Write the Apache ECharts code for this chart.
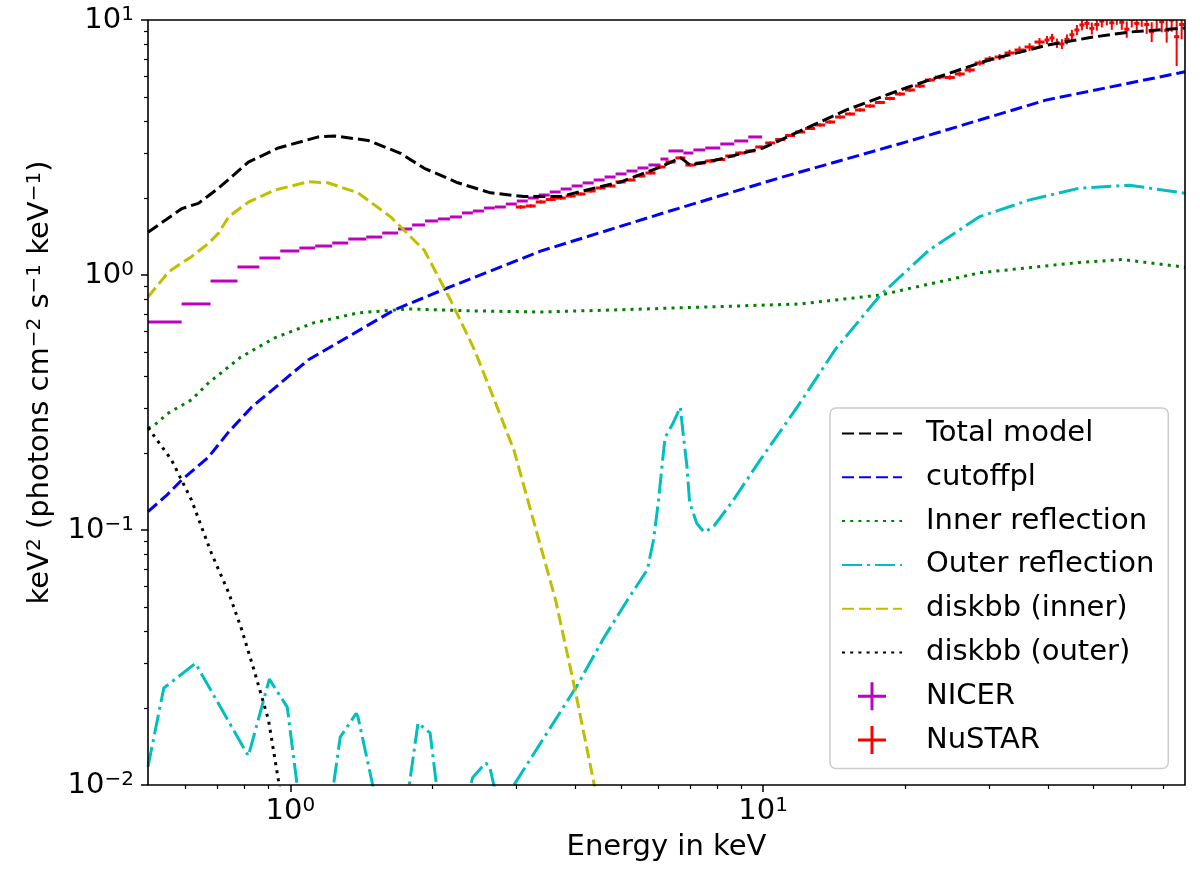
<!DOCTYPE html>
<html>
<head>
<meta charset="utf-8">
<script src="https://cdn.jsdelivr.net/npm/echarts@6/dist/echarts.min.js"></script>
<style>
html,body{margin:0;padding:0;background:#fff;}
#chart{width:1200px;height:875px;}
</style>
</head>
<body>
<div id="chart"></div>
<script>
// ---------------- data ----------------
const totalE = [0.5,0.589,0.639,0.705,0.815,0.943,1.146,1.24,1.46,1.71,1.92,2.26,2.65,3.12,3.73,4.0,5.0,6.0,6.4,6.7,7.0,8.0,10,15,20,30,40,50,60,78];
const totalV = [1.47,1.82,1.91,2.19,2.77,3.15,3.48,3.51,3.37,3.0,2.62,2.30,2.10,2.03,2.03,2.10,2.32,2.63,2.78,2.88,2.70,2.83,3.15,4.44,5.41,6.97,7.98,8.58,8.98,9.3];

const cutoffE = [0.5,0.548,0.589,0.671,0.740,0.828,1.09,1.66,2.15,3.38,6.27,10.8,20.7,39.6,75.8,78];
const cutoffV = [0.118,0.137,0.157,0.193,0.242,0.303,0.464,0.73,0.89,1.24,1.77,2.40,3.38,4.85,6.2,6.27];

const innerE = [0.5,0.516,0.553,0.618,0.671,0.785,0.925,1.12,1.39,1.77,2.45,3.38,4.92,11.97,17.7,28.7,46.6,57.6,75.8,78];
const innerV = [0.25,0.258,0.288,0.324,0.377,0.476,0.566,0.649,0.71,0.736,0.723,0.716,0.73,0.77,0.835,1.02,1.12,1.15,1.08,1.07];

const outerE = [0.5,0.54,0.63,0.815,0.903,0.985,1.035,1.12,1.232,1.275,1.378,1.39,1.497,1.64,1.782,1.862,1.975,2.04,2.2,2.40,2.43,2.59,2.64,2.70,2.8,2.95,4.05,4.6,5.16,5.69,5.86,6.0,6.12,6.2,6.45,6.68,6.77,6.9,6.99,7.24,7.5,7.85,8.65,9.85,11.8,14.2,17.7,22.4,28.6,36.6,46.6,59.4,75.8,78];
const outerV = [0.0118,0.024,0.030,0.013,0.026,0.0202,0.0098,0.004,0.0098,0.0154,0.0191,0.0185,0.0098,0.004,0.0098,0.0175,0.016,0.0098,0.004,0.0098,0.0107,0.0122,0.0118,0.0098,0.006,0.0098,0.0247,0.0377,0.053,0.070,0.091,0.128,0.183,0.230,0.263,0.303,0.24,0.177,0.128,0.106,0.098,0.103,0.131,0.188,0.303,0.51,0.835,1.25,1.69,1.97,2.19,2.25,2.11,2.09];

const diskInE = [0.5,0.553,0.618,0.671,0.705,0.740,0.815,0.925,1.09,1.20,1.39,1.63,1.92,2.18,2.45,2.70,2.97,3.64,3.99,4.38,4.6];
const diskInV = [0.82,1.03,1.18,1.33,1.46,1.69,1.93,2.15,2.32,2.30,2.10,1.69,1.25,0.80,0.51,0.324,0.206,0.053,0.0242,0.0103,0.006];

const diskOutE = [0.5,0.561,0.618,0.681,0.740,0.788,0.839,0.899,0.943,1.0];
const diskOutV = [0.252,0.188,0.131,0.081,0.057,0.041,0.028,0.018,0.0105,0.0058];

const nicerEdges = [0.5,0.589,0.678,0.773,0.860,0.952,1.045,1.129,1.226,1.326,1.447,1.564,1.690,1.809,1.927,2.052,2.176,2.306,2.433,2.567,2.706,2.856,3.012,3.178,3.352,3.536,3.730,3.935,4.151,4.379,4.619,4.873,5.140,5.423,5.720,6.064,6.304,6.781,7.118,7.543,8.114,8.687,9.297,9.95];
const nicerVals = [0.654,0.770,0.947,1.075,1.166,1.242,1.276,1.299,1.335,1.384,1.409,1.461,1.515,1.571,1.629,1.659,1.689,1.751,1.782,1.831,1.848,1.898,1.950,2.004,2.059,2.116,2.174,2.234,2.296,2.358,2.423,2.490,2.557,2.628,2.700,2.850,3.065,3.009,3.093,3.148,3.264,3.354,3.478];

const nustarEdges = [2.998,3.146,3.303,3.468,3.641,3.823,4.013,4.212,4.422,4.642,4.873,5.116,5.370,5.637,5.918,6.213,6.522,6.846,7.187,7.545,7.920,8.314,8.728,9.163,9.619,10.10,10.60,11.13,11.68,12.26,12.87,13.52,14.19,14.89,15.64,16.42,17.23,18.09,18.99,19.94,20.93,21.97,23.07,24.21,25.42,26.68,28.01,29.40,30.87,32.40,34.01,35.71,37.48,39.35,
  40.32,41.31,42.32,43.36,44.43,45.52,46.64,47.79,48.96,50.16,51.40,52.66,53.95,55.28,56.64,58.03,59.46,60.92,62.42,63.95,65.52,67.14,68.79,70.48,72.21,73.99,75.81,77.67];
const nustarVals = [1.848,1.865,1.934,1.978,2.004,2.041,2.078,2.135,2.194,2.234,2.316,2.358,2.445,2.512,2.652,2.774,2.877,2.700,2.749,2.800,2.838,2.929,3.009,3.064,3.177,3.294,3.400,3.525,3.638,3.755,3.875,3.981,4.165,4.280,4.438,4.600,4.749,4.923,5.126,5.315,5.510,5.817,5.977,5.95,6.141,6.366,6.782,7.032,7.160,7.424,7.628,7.836,8.197,
  8.35,8.50,8.11,8.05,8.40,8.75,9.14,9.56,9.70,9.27,9.60,9.90,10.10,9.75,10.20,9.80,9.20,10.05,9.70,10.15,9.60,9.00,10.10,9.85,9.10,10.00,8.60,9.60];
const nustarErr = [0.03,0.03,0.03,0.03,0.03,0.03,0.03,0.03,0.03,0.03,0.03,0.03,0.03,0.03,0.03,0.03,0.03,
  0.04,0.04,0.04,0.04,0.04,0.04,0.04,0.04,0.04,0.04,0.04,0.04,
  0.05,0.06,0.06,0.06,0.06,0.07,0.07,0.07,0.08,0.08,0.09,
  0.10,0.10,0.12,0.12,0.14,0.15,0.16,0.18,
  0.20,0.22,0.25,0.28,0.30,
  0.30,0.32,0.34,0.36,0.38,0.40,0.42,0.45,0.48,0.50,0.52,0.55,0.58,0.60,0.62,0.65,0.68,0.70,0.72,0.75,0.78,0.80,0.85,0.90,0.95,1.0,2.0,1.2];

const xMajorTicks = [1, 10];
const xMinorTicks = [0.6,0.7,0.8,0.9,2,3,4,5,6,7,8,9,20,30,40,50,60,70];
const yMajorTicks = [0.01, 0.1, 1, 10];
const yMinorTicks = [0.02,0.03,0.04,0.05,0.06,0.07,0.08,0.09,0.2,0.3,0.4,0.5,0.6,0.7,0.8,0.9,2,3,4,5,6,7,8,9];

const legendNames = ['Total model','cutoffpl','Inner reflection','Outer reflection','diskbb (inner)','diskbb (outer)','NICER','NuSTAR'];

// ---------------- chart ----------------
const FONT = 'DejaVu Sans';
const FS = 29;
const PLUS = 'path://M12.5,0h3v12.5h12.5v3h-12.5v12.5h-3v-12.5h-12.5v-3h12.5z';
function zip(a, b) { return a.map((v, i) => [v, b[i]]); }
function bins(edges, vals, errs) { return vals.map((v, i) => errs ? [edges[i], edges[i + 1], v, errs[i]] : [edges[i], edges[i + 1], v]); }
function supLabel(v) {
  const e = Math.round(Math.log10(v));
  return '{b|10}{s|' + (e < 0 ? '\u2212' + (-e) : String(e)) + '}';
}
const RICH = {
  b: { fontSize: FS, fontFamily: FONT, color: '#000', lineHeight: 31 },
  s: { fontSize: 20, fontFamily: FONT, color: '#000', lineHeight: 20, verticalAlign: 'top' }
};

function lineSeries(name, xs, ys, color, dash) {
  return {
    name: name, type: 'line', data: zip(xs, ys), symbol: 'none', showSymbol: false,
    clip: true, z: 3,
    lineStyle: { color: color, width: 3, type: dash, cap: 'butt' },
    itemStyle: { color: color }
  };
}

const chart = echarts.init(document.getElementById('chart'), null, { renderer: 'canvas' });
const gridBox = { left: 148, right: 15, top: 20, bottom: 90 };

const option = {
  animation: false,
  backgroundColor: '#fff',
  grid: [
    Object.assign({ show: true, borderColor: '#000', borderWidth: 1.6, backgroundColor: 'transparent', z: 5 }, gridBox),
    Object.assign({ show: false }, gridBox)
  ],
  xAxis: [
    {
      type: 'log', gridIndex: 0, min: 0.5, max: 78, position: 'bottom',
      axisLine: { show: false }, splitLine: { show: false },
      axisTick: { show: true, length: 7, lineStyle: { color: '#000', width: 1.5 }, customValues: xMajorTicks },
      axisLabel: { customValues: xMajorTicks, formatter: supLabel, margin: 11, rich: RICH },
      name: 'Energy in keV', nameLocation: 'middle', nameGap: 48,
      nameTextStyle: { fontSize: FS, fontFamily: FONT, color: '#000' }
    },
    {
      type: 'log', gridIndex: 1, min: 0.5, max: 78, position: 'bottom',
      axisLine: { show: false }, splitLine: { show: false }, axisLabel: { show: false },
      axisTick: { show: true, length: 4, lineStyle: { color: '#000', width: 1.2 }, customValues: xMinorTicks }
    }
  ],
  yAxis: [
    {
      type: 'log', gridIndex: 0, min: 0.01, max: 10, position: 'left',
      axisLine: { show: false }, splitLine: { show: false },
      axisTick: { show: true, length: 7, lineStyle: { color: '#000', width: 1.5 }, customValues: yMajorTicks },
      axisLabel: { customValues: yMajorTicks, formatter: supLabel, margin: 14, rich: RICH },
      name: 'keV{s|2} (photons cm{s|\u22122} s{s|\u22121} keV{s|\u22121})',
      nameLocation: 'middle', nameGap: 92,
      nameTextStyle: { fontSize: FS, fontFamily: FONT, color: '#000', lineHeight: 31, padding: [0, 0, 0, 40],
        rich: { s: { fontSize: 20, fontFamily: FONT, color: '#000', lineHeight: 20, verticalAlign: 'top' } } }
    },
    {
      type: 'log', gridIndex: 1, min: 0.01, max: 10, position: 'left',
      axisLine: { show: false }, splitLine: { show: false }, axisLabel: { show: false },
      axisTick: { show: true, length: 4, lineStyle: { color: '#000', width: 1.2 }, customValues: yMinorTicks }
    }
  ],
  legend: {
    left: 830, top: 408, orient: 'vertical',
    itemWidth: 60, itemHeight: 28, itemGap: 14.8,
    padding: [11, 14, 14, 11],
    backgroundColor: 'rgba(255,255,255,0.8)', borderColor: '#cccccc', borderWidth: 1.5, borderRadius: 6,
    symbolKeepAspect: true,
    textStyle: { fontSize: FS, fontFamily: FONT, color: '#000', lineHeight: 29, padding: [0, 0, 0, 19] },
    data: legendNames.map(n => (n === 'NICER' || n === 'NuSTAR')
      ? { name: n, icon: PLUS }
      : { name: n, itemStyle: { opacity: 0 } })
  },
  series: [
    {
      name: 'NICER', type: 'custom', clip: true, z: 2,
      data: bins(nicerEdges, nicerVals),
      encode: { x: [0, 1], y: 2 },
      itemStyle: { color: '#bf00bf' },
      renderItem: function (params, api) {
        const v = api.value(2);
        const a = api.coord([api.value(0), v]);
        const b = api.coord([api.value(1), v]);
        return { type: 'line', shape: { x1: a[0], y1: a[1], x2: b[0], y2: b[1] }, style: { stroke: '#bf00bf', lineWidth: 3 } };
      }
    },
    {
      name: 'NuSTAR', type: 'custom', clip: true, z: 2,
      data: bins(nustarEdges, nustarVals, nustarErr),
      encode: { x: [0, 1], y: 2 },
      itemStyle: { color: '#ff0000' },
      renderItem: function (params, api) {
        const lo = api.value(0), hi = api.value(1), v = api.value(2), e = api.value(3);
        const a = api.coord([lo, v]);
        const b = api.coord([hi, v]);
        const mid = Math.sqrt(lo * hi);
        const top = api.coord([mid, v + e]);
        const bot = api.coord([mid, Math.max(v - e, 0.001)]);
        return {
          type: 'group',
          children: [
            { type: 'line', shape: { x1: a[0], y1: a[1], x2: b[0], y2: b[1] }, style: { stroke: '#ff0000', lineWidth: 3 } },
            { type: 'line', shape: { x1: top[0], y1: top[1], x2: bot[0], y2: bot[1] }, style: { stroke: '#ff0000', lineWidth: 2 } }
          ]
        };
      }
    },
    lineSeries('Total model', totalE, totalV, '#000000', [12, 5]),
    lineSeries('cutoffpl', cutoffE, cutoffV, '#0000ff', [12, 5]),
    lineSeries('Inner reflection', innerE, innerV, '#008000', [3, 5.2]),
    lineSeries('Outer reflection', outerE, outerV, '#00bfbf', [20, 5, 3, 5]),
    lineSeries('diskbb (inner)', diskInE, diskInV, '#bfbf00', [12, 5]),
    lineSeries('diskbb (outer)', diskOutE, diskOutV, '#000000', [3, 5.2])
  ]
};
chart.setOption(option);
</script>
</body>
</html>
